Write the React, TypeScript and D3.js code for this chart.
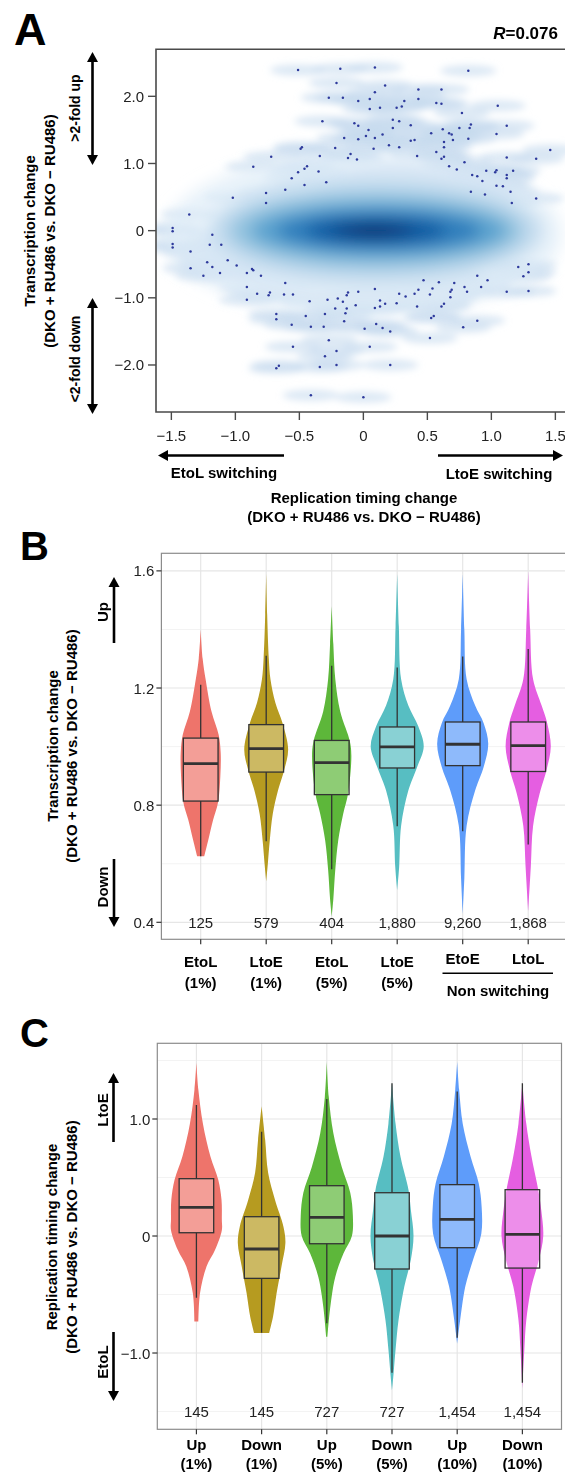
import React from 'react';
import * as d3 from 'd3';

// ---------- Panel A: smoothed scatter ----------
const aXTicks = [-1.5, -1.0, -0.5, 0, 0.5, 1.0, 1.5];
const aYTicks = [-2, -1, 0, 1, 2];

// outlying genes drawn as dots [replication timing change, transcription change]
const aPoints: number[][] = [
  [-0.51, 2.39], [-0.18, 2.41], [0.09, 2.43], [0.82, 2.38], [-0.21, 2.2], [0.17, 2.16], [0.09, 2.06], [0.43, 2.1], [0.61, 2.1],
  [-0.27, 1.98], [-0.16, 1.98], [-0.04, 1.93], [0.05, 1.96], [0.43, 1.96], [0.32, 1.93], [0.57, 1.9], [0.61, 1.89], [1.05, 1.86],
  [0.05, 1.81], [0.13, 1.83], [0.26, 1.83], [0.3, 1.85], [0.77, 1.75],
  [-0.32, 1.63], [-0.07, 1.6], [-0.04, 1.56], [0.23, 1.65], [0.28, 1.63], [0.37, 1.57], [1.12, 1.56],
  [0.04, 1.5], [0.23, 1.53], [0.84, 1.58], [0.83, 1.53], [0.75, 1.53],
  [-0.15, 1.38], [-0.04, 1.36], [0.02, 1.41], [0.09, 1.38], [0.15, 1.43], [0.53, 1.45], [0.62, 1.51], [0.67, 1.45], [0.69, 1.43], [0.82, 1.37], [1.04, 1.44],
  [0.37, 1.34], [0.4, 1.35], [0.7, 1.35], [0.63, 1.32],
  [-0.49, 1.22], [-0.48, 1.24], [-0.22, 1.23], [0.08, 1.22], [0.2, 1.27], [0.28, 1.24], [0.63, 1.24], [1.46, 1.2],
  [-0.72, 1.1], [-0.34, 1.11], [-0.1, 1.14], [-0.12, 1.08], [-0.05, 1.06], [0.42, 1.11], [0.57, 1.17], [0.63, 1.1], [0.61, 1.07], [1.12, 1.09], [1.35, 1.07],
  [-0.86, 0.95], [-0.44, 0.96], [-0.46, 0.92], [0.79, 1.02], [0.67, 0.96], [0.73, 0.91],
  [-0.51, 0.87], [-0.35, 0.88], [0.96, 0.89], [1.04, 0.9], [1.03, 0.87], [1.17, 0.89], [1.12, 0.83], [0.85, 0.83], [0.89, 0.81],
  [-0.56, 0.78], [-0.29, 0.72], [1.12, 0.78], [0.93, 0.74],
  [-0.61, 0.61], [-0.46, 0.68], [1.04, 0.67], [1.09, 0.66], [1.15, 0.58], [0.84, 0.58], [0.95, 0.54],
  [-1.02, 0.49], [-0.76, 0.56], [1.35, 0.48], [-0.76, 0.41], [1.16, 0.41],
  [-1.36, 0.24], [-1.49, 0.04], [-1.49, -0.01], [-1.18, -0.06],
  [-1.49, -0.2], [-1.49, -0.25], [-1.2, -0.21], [-1.11, -0.21], [-1.35, -0.31],
  [-1.22, -0.47], [-1.18, -0.54], [-1.06, -0.44], [-0.99, -0.52], [-1.35, -0.56], [-1.25, -0.67], [-1.12, -0.63],
  [-0.91, -0.63], [-0.87, -0.57], [-0.86, -0.59], [-0.8, -0.67],
  [-0.91, -0.84], [-0.61, -0.78], [-0.91, -1.03], [-0.83, -0.94], [-0.74, -0.96], [-0.73, -0.92], [-0.62, -0.95], [-0.55, -0.95],
  [-0.68, -1.24], [-0.68, -1.32], [-0.45, -1.27], [-0.42, -1.05], [-0.56, -1.4], [-0.41, -1.43], [-0.31, -1.43],
  [-0.28, -1.03], [-0.2, -1.01], [-0.16, -1.06], [-0.13, -0.96], [-0.12, -0.92], [-0.22, -1.16], [-0.13, -1.16], [-0.14, -1.23], [-0.3, -1.24], [-0.15, -1.35],
  [-0.04, -0.91], [-0.06, -1.11], [0.09, -0.87], [0.13, -1.04], [0.13, -1.13], [0.09, -1.15], [0.17, -1.09], [0.28, -0.94], [0.33, -0.98], [0.26, -1.08],
  [0.01, -1.46], [0.1, -1.39], [0.15, -1.45], [0.21, -1.5],
  [0.4, -0.94], [0.43, -0.88], [0.47, -0.74], [0.54, -0.86], [0.59, -0.77], [0.52, -0.95], [0.42, -1.13],
  [0.71, -0.78], [0.69, -0.88], [0.68, -0.91], [0.68, -0.99], [0.63, -1.09], [0.61, -1.13],
  [0.79, -0.84], [0.81, -0.91], [0.89, -0.67], [0.92, -0.84], [0.97, -0.74],
  [0.55, -1.27], [0.53, -1.3], [0.78, -1.44], [0.89, -1.34], [0.52, -1.6],
  [1.12, -0.91], [1.29, -0.9], [1.21, -0.54], [1.29, -0.5], [1.25, -0.68], [1.29, -0.62],
  [-0.55, -1.73], [-0.27, -1.63], [0.05, -1.73], [-0.3, -1.87], [-0.21, -1.79],
  [-0.68, -2.05], [-0.66, -2.01], [-0.34, -2.03], [-0.21, -2.0], [0.21, -2.0],
  [-0.41, -2.45], [0.0, -2.48],
];

// dense core of the smoothed scatter, read as nested blobs (outer haze first)
const aDensityX = [0.0, 0.4, -0.6, 0.0, 0.1, 0.1, 0.12, 0.12, 0.1, 0.08, 0.08];
const aDensityY = [-0.05, 0.6, -0.4, -0.75, 0.0, 0.0, 0.0, 0.0, 0.0, 0.0, 0.0];
const aDensityRx = [1.55, 0.8, 0.9, 0.9, 1.3, 1.15, 1.0, 0.8, 0.55, 0.32, 0.14];
const aDensityRy = [1.2, 0.45, 0.4, 0.35, 0.78, 0.58, 0.42, 0.3, 0.2, 0.11, 0.055];
const aDensityLevel = [0.12, 0.17, 0.17, 0.14, 0.25, 0.4, 0.55, 0.7, 0.84, 0.95, 1.0];

// ---------- Panel B: transcription change ----------
const bTicks = [0.4, 0.8, 1.2, 1.6];
const bMinor = [0.6, 1.0, 1.4];
const bNames = ['EtoL', 'LtoE', 'EtoL', 'LtoE', 'EtoE', 'LtoL'];
const bSub = ['(1%)', '(1%)', '(5%)', '(5%)', '', ''];
const bCounts = ['125', '579', '404', '1,880', '9,260', '1,868'];
// [lower whisker, q1, median, q3, upper whisker]
const bBoxes = [
  [0.626, 0.814, 0.942, 1.029, 1.211],
  [0.677, 0.913, 0.993, 1.075, 1.31],
  [0.581, 0.836, 0.945, 1.021, 1.276],
  [0.728, 0.927, 0.999, 1.067, 1.27],
  [0.711, 0.935, 1.008, 1.084, 1.308],
  [0.666, 0.915, 1.003, 1.084, 1.333],
];
// violin outline: [value, width as share of category step]
const bViolins = [
  [[1.4, 0], [1.3, 0.06], [1.23, 0.15], [1.12, 0.33], [1.04, 0.55], [0.98, 0.61], [0.9, 0.6], [0.81, 0.53], [0.75, 0.38], [0.68, 0.23], [0.626, 0.11]],
  [[1.59, 0], [1.45, 0.03], [1.3, 0.08], [1.23, 0.13], [1.15, 0.28], [1.08, 0.5], [0.99, 0.67], [0.92, 0.55], [0.85, 0.36], [0.77, 0.2], [0.68, 0.11], [0.6, 0.05], [0.54, 0]],
  [[1.48, 0], [1.35, 0.05], [1.23, 0.11], [1.12, 0.26], [1.02, 0.55], [0.97, 0.6], [0.84, 0.5], [0.77, 0.35], [0.68, 0.2], [0.58, 0.11], [0.48, 0.05], [0.42, 0]],
  [[1.59, 0], [1.41, 0.05], [1.23, 0.12], [1.14, 0.34], [1.07, 0.64], [1.0, 0.81], [0.93, 0.61], [0.85, 0.34], [0.73, 0.12], [0.59, 0.06], [0.51, 0]],
  [[1.59, 0], [1.4, 0.05], [1.23, 0.12], [1.14, 0.38], [1.08, 0.64], [1.01, 0.78], [0.93, 0.64], [0.85, 0.38], [0.73, 0.12], [0.55, 0.05], [0.43, 0]],
  [[1.6, 0], [1.4, 0.06], [1.23, 0.15], [1.14, 0.41], [1.08, 0.58], [1.0, 0.69], [0.92, 0.56], [0.84, 0.35], [0.73, 0.15], [0.59, 0.08], [0.44, 0]],
];

// ---------- Panel C: replication timing change ----------
const cTicks = [-1, 0, 1];
const cMinor = [-1.5, -0.5, 0.5, 1.5];
const cNames = ['Up', 'Down', 'Up', 'Down', 'Up', 'Down'];
const cSub = ['(1%)', '(1%)', '(5%)', '(5%)', '(10%)', '(10%)'];
const cCounts = ['145', '145', '727', '727', '1,454', '1,454'];
const cBoxes = [
  [-0.527, 0.028, 0.245, 0.49, 1.12],
  [-0.826, -0.362, -0.111, 0.165, 0.892],
  [-0.746, -0.066, 0.16, 0.43, 1.171],
  [-1.168, -0.282, 0.0, 0.37, 1.305],
  [-0.869, -0.1, 0.142, 0.439, 1.234],
  [-1.254, -0.274, 0.014, 0.396, 1.305],
];
const cViolins = [
  [[1.48, 0], [1.25, 0.06], [0.96, 0.2], [0.68, 0.43], [0.48, 0.67], [0.31, 0.77], [0.14, 0.78], [0.05, 0.78], [-0.12, 0.57], [-0.26, 0.31], [-0.49, 0.11], [-0.73, 0.06]],
  [[1.11, 0], [0.82, 0.11], [0.54, 0.2], [0.31, 0.41], [0.08, 0.67], [-0.06, 0.73], [-0.26, 0.61], [-0.49, 0.46], [-0.69, 0.35], [-0.83, 0.23]],
  [[1.49, 0], [1.19, 0.06], [0.88, 0.2], [0.59, 0.46], [0.37, 0.72], [0.17, 0.8], [0.0, 0.77], [-0.15, 0.51], [-0.35, 0.26], [-0.6, 0.11], [-0.86, 0.02]],
  [[1.31, 0], [0.96, 0.11], [0.68, 0.26], [0.39, 0.51], [0.22, 0.58], [0.0, 0.66], [-0.2, 0.58], [-0.43, 0.38], [-0.72, 0.2], [-0.97, 0.11], [-1.17, 0.05], [-1.32, 0]],
  [[1.49, 0], [1.25, 0.06], [0.96, 0.17], [0.68, 0.41], [0.45, 0.66], [0.25, 0.75], [0.02, 0.74], [-0.2, 0.49], [-0.43, 0.25], [-0.72, 0.09], [-0.92, 0]],
  [[1.31, 0], [0.96, 0.12], [0.68, 0.28], [0.39, 0.49], [0.22, 0.58], [0.0, 0.64], [-0.2, 0.51], [-0.43, 0.28], [-0.72, 0.12], [-0.97, 0.06], [-1.3, 0]],
];

const groupColors = ['#EE746B', '#B69B20', '#5DB73A', '#57BEC2', '#5E9CFA', '#E55EE1'];

const FONT = "'Liberation Sans', Arial, Helvetica, sans-serif";
const fmt1 = d3.format('.1f');
const tickFmt = (d: number) => (d === 0 ? '0' : fmt1(d));

const Arrow = ({ x1, y1, x2, y2, both = false }: any) => {
  const len = Math.hypot(x2 - x1, y2 - y1);
  const ux = (x2 - x1) / len;
  const uy = (y2 - y1) / len;
  const hl = 10;
  const hw = 5.5;
  const head = (tx: number, ty: number, dx: number, dy: number) => {
    const bx = tx - dx * hl;
    const by = ty - dy * hl;
    return `${tx},${ty} ${bx - dy * hw},${by + dx * hw} ${bx + dy * hw},${by - dx * hw}`;
  };
  return (
    <g>
      <line
        x1={both ? x1 + ux * hl * 0.8 : x1}
        y1={both ? y1 + uy * hl * 0.8 : y1}
        x2={x2 - ux * hl * 0.8}
        y2={y2 - uy * hl * 0.8}
        stroke="#000"
        strokeWidth={2.6}
      />
      <polygon points={head(x2, y2, ux, uy)} fill="#000" />
      {both && <polygon points={head(x1, y1, -ux, -uy)} fill="#000" />}
    </g>
  );
};

const VText = ({ x, y, children, size = 15, weight = 'bold' }: any) => (
  <text
    transform={`translate(${x},${y}) rotate(-90)`}
    textAnchor="middle"
    dominantBaseline="central"
    fontSize={size}
    fontWeight={weight}
    fontFamily={FONT}
    fill="#000"
  >
    {children}
  </text>
);

const ScatterPanel = () => {
  const left = 156;
  const top = 49.3;
  const bottom = 412;
  const x = d3.scaleLinear().domain([-1.62, 1.62]).range([left, left + 3.24 * 128]);
  const y = d3.scaleLinear().domain([-2.7, 2.7]).range([bottom, top]);
  const kx = x(1) - x(0);
  const ky = y(0) - y(1);
  return (
    <g>
      <defs>
        <clipPath id="aclip">
          <rect x={left} y={top} width={565 - left} height={bottom - top} />
        </clipPath>
        <filter id="blurCore" x="-30%" y="-30%" width="160%" height="160%">
          <feGaussianBlur stdDeviation="8" />
        </filter>
        <filter id="blurHalo" x="-30%" y="-100%" width="160%" height="300%">
          <feGaussianBlur stdDeviation="3.5" />
        </filter>
      </defs>
      <g clipPath="url(#aclip)">
        <g filter="url(#blurHalo)">
          {aPoints.map((p, i) => (
            <ellipse key={i} cx={x(p[0])} cy={y(p[1])} rx={0.22 * kx} ry={0.085 * ky} fill="#c6dbef" opacity={0.6} />
          ))}
        </g>
        <g filter="url(#blurCore)">
          {aDensityX.map((dx, i) => (
            <ellipse
              key={i}
              cx={x(dx)}
              cy={y(aDensityY[i])}
              rx={aDensityRx[i] * kx}
              ry={aDensityRy[i] * ky}
              fill={d3.interpolateBlues(aDensityLevel[i])}
              opacity={i < 4 ? 0.75 : 1}
            />
          ))}
        </g>
        {aPoints.map((p, i) => (
          <circle key={i} cx={x(p[0])} cy={y(p[1])} r={1.25} fill="#2e3a9c" />
        ))}
      </g>
      {/* frame */}
      <path d={`M565,${top}H${left}V${bottom}H565`} fill="none" stroke="#4a4a4a" strokeWidth={1.6} />
      {aYTicks.map((t) => (
        <g key={t}>
          <line x1={left - 8} x2={left} y1={y(t)} y2={y(t)} stroke="#4a4a4a" strokeWidth={1.4} />
          <text x={left - 12} y={y(t)} textAnchor="end" dominantBaseline="central" fontSize={15} fontFamily={FONT} fill="#222">
            {tickFmt(t)}
          </text>
        </g>
      ))}
      {aXTicks.map((t) => (
        <g key={t}>
          <line x1={x(t)} x2={x(t)} y1={bottom} y2={bottom + 8} stroke="#4a4a4a" strokeWidth={1.4} />
          <text x={x(t)} y={bottom + 23} textAnchor="middle" dominantBaseline="central" fontSize={15} fontFamily={FONT} fill="#222">
            {tickFmt(t)}
          </text>
        </g>
      ))}
      <text x={558} y={39} textAnchor="end" fontSize={17} fontWeight="bold" fontFamily={FONT}>
        <tspan fontStyle="italic">R</tspan>=0.076
      </text>
      <VText x={29} y={231}>Transcription change</VText>
      <VText x={49} y={231}>(DKO + RU486 vs. DKO − RU486)</VText>
      <VText x={75} y={108} size={14}>{'>2-fold up'}</VText>
      <Arrow x1={92.5} y1={52} x2={92.5} y2={165} both />
      <VText x={75} y={359} size={14}>{'<2-fold down'}</VText>
      <Arrow x1={92.5} y1={298} x2={92.5} y2={414} both />
      <Arrow x1={284} y1={455.5} x2={158} y2={455.5} />
      <Arrow x1={438} y1={455.5} x2={563} y2={455.5} />
      <text x={224} y={478} textAnchor="middle" fontSize={15} fontWeight="bold" fontFamily={FONT}>EtoL switching</text>
      <text x={499} y={479} textAnchor="middle" fontSize={15} fontWeight="bold" fontFamily={FONT}>LtoE switching</text>
      <text x={364} y={503} textAnchor="middle" fontSize={15} fontWeight="bold" fontFamily={FONT}>Replication timing change</text>
      <text x={364} y={522} textAnchor="middle" fontSize={15} fontWeight="bold" fontFamily={FONT}>(DKO + RU486 vs. DKO − RU486)</text>
    </g>
  );
};

const ViolinPanel = ({ left, right, top, bottom, domain, ticks, minor, violins, boxes, counts, countAt, id }: any) => {
  const y = d3.scaleLinear().domain(domain).range([bottom, top]);
  const x = d3.scalePoint<number>().domain(d3.range(6)).range([left, right]).padding(0.6);
  const step = x.step();
  const boxW = 0.53 * step;
  return (
    <g>
      <defs>
        <clipPath id={id}>
          <rect x={left} y={top} width={right - left} height={bottom - top} />
        </clipPath>
      </defs>
      {minor.map((t: number) => (
        <line key={'m' + t} x1={left} x2={right} y1={y(t)} y2={y(t)} stroke="#f3f3f3" strokeWidth={1} />
      ))}
      {ticks.map((t: number) => (
        <line key={'g' + t} x1={left} x2={right} y1={y(t)} y2={y(t)} stroke="#e6e6e6" strokeWidth={1.2} />
      ))}
      {d3.range(6).map((i) => (
        <line key={'v' + i} x1={x(i)} x2={x(i)} y1={top} y2={bottom} stroke="#e6e6e6" strokeWidth={1.2} />
      ))}
      <g clipPath={`url(#${id})`}>
        {violins.map((v: number[][], i: number) => {
          const cx = x(i) as number;
          const area = d3
            .area<number[]>()
            .y((d) => y(d[0]))
            .x0((d) => cx - (d[1] * step) / 2)
            .x1((d) => cx + (d[1] * step) / 2)
            .curve(d3.curveCatmullRom.alpha(0.5));
          const b = boxes[i];
          return (
            <g key={i}>
              <path d={area(v) || ''} fill={groupColors[i]} />
              <line x1={cx} x2={cx} y1={y(b[4])} y2={y(b[3])} stroke="#333" strokeWidth={1.3} />
              <line x1={cx} x2={cx} y1={y(b[1])} y2={y(b[0])} stroke="#333" strokeWidth={1.3} />
              <rect
                x={cx - boxW / 2}
                y={y(b[3])}
                width={boxW}
                height={y(b[1]) - y(b[3])}
                fill="#fff"
                fillOpacity={0.3}
                stroke="#333"
                strokeWidth={1.3}
              />
              <line x1={cx - boxW / 2} x2={cx + boxW / 2} y1={y(b[2])} y2={y(b[2])} stroke="#333" strokeWidth={2.8} />
            </g>
          );
        })}
      </g>
      {counts.map((c: string, i: number) => (
        <text key={'c' + i} x={x(i)} y={y(countAt)} textAnchor="middle" dominantBaseline="central" fontSize={15} fontFamily={FONT} fill="#222">
          {c}
        </text>
      ))}
      <rect x={left} y={top} width={right - left} height={bottom - top} fill="none" stroke="#8c8c8c" strokeWidth={1.2} />
      {ticks.map((t: number) => (
        <g key={'t' + t}>
          <line x1={left - 5} x2={left} y1={y(t)} y2={y(t)} stroke="#333" strokeWidth={1.2} />
          <text x={left - 7} y={y(t)} textAnchor="end" dominantBaseline="central" fontSize={15} fontFamily={FONT} fill="#222">
            {tickFmt(t)}
          </text>
        </g>
      ))}
      {d3.range(6).map((i) => (
        <line key={'xt' + i} x1={x(i)} x2={x(i)} y1={bottom} y2={bottom + 5} stroke="#333" strokeWidth={1.2} />
      ))}
    </g>
  );
};

const bxScale = d3.scalePoint<number>().domain(d3.range(6)).range([161.4, 567.5]).padding(0.6);
const cxScale = d3.scalePoint<number>().domain(d3.range(6)).range([157.3, 561.5]).padding(0.6);

const App = () => {
  const bold = { fontSize: 15, fontWeight: 'bold', fontFamily: FONT, textAnchor: 'middle' } as any;
  return (
    <>
      <style>{`body{margin:0;background:#fff}`}</style>
      <svg width={565} height={1475} style={{ display: 'block' }} xmlns="http://www.w3.org/2000/svg">
        <rect width={565} height={1475} fill="#fff" />
        <text x={14} y={45} fontSize={45} fontWeight="bold" fontFamily={FONT}>A</text>
        <text x={20} y={560} fontSize={40} fontWeight="bold" fontFamily={FONT}>B</text>
        <text x={20} y={1047} fontSize={40} fontWeight="bold" fontFamily={FONT}>C</text>

        <ScatterPanel />

        {/* Panel B */}
        <ViolinPanel
          id="bclip"
          left={161.4}
          right={567.5}
          top={553.3}
          bottom={939.3}
          domain={[0.342, 1.66]}
          ticks={bTicks}
          minor={bMinor}
          violins={bViolins}
          boxes={bBoxes}
          counts={bCounts}
          countAt={0.4}
        />
        <VText x={52} y={746}>Transcription change</VText>
        <VText x={71} y={746}>(DKO + RU486 vs. DKO − RU486)</VText>
        <VText x={102} y={612}>Up</VText>
        <Arrow x1={114} y1={643} x2={114} y2={577} />
        <VText x={102} y={887}>Down</VText>
        <Arrow x1={114} y1={859} x2={114} y2={927} />
        {bNames.map((n, i) => (
          <g key={i}>
            <text x={bxScale(i)} y={bSub[i] ? 967 : 964} {...bold}>{n}</text>
            {bSub[i] && <text x={bxScale(i)} y={987.5} {...bold}>{bSub[i]}</text>}
          </g>
        ))}
        <line x1={442.5} x2={553} y1={973.3} y2={973.3} stroke="#000" strokeWidth={1.6} />
        <text x={498} y={996} {...bold}>Non switching</text>

        {/* Panel C */}
        <ViolinPanel
          id="cclip"
          left={157.3}
          right={561.5}
          top={1043.3}
          bottom={1429.3}
          domain={[-1.652, 1.647]}
          ticks={cTicks}
          minor={cMinor}
          violins={cViolins}
          boxes={cBoxes}
          counts={cCounts}
          countAt={-1.5}
        />
        <VText x={51} y={1237}>Replication timing change</VText>
        <VText x={71} y={1237}>(DKO + RU486 vs. DKO − RU486)</VText>
        <VText x={102} y={1110}>LtoE</VText>
        <Arrow x1={113.5} y1={1142} x2={113.5} y2={1073} />
        <VText x={102} y={1362}>EtoL</VText>
        <Arrow x1={113.5} y1={1332} x2={113.5} y2={1401} />
        {cNames.map((n, i) => (
          <g key={i}>
            <text x={cxScale(i)} y={1450} {...bold}>{n}</text>
            <text x={cxScale(i)} y={1469} {...bold}>{cSub[i]}</text>
          </g>
        ))}
      </svg>
    </>
  );
};

export default App;
